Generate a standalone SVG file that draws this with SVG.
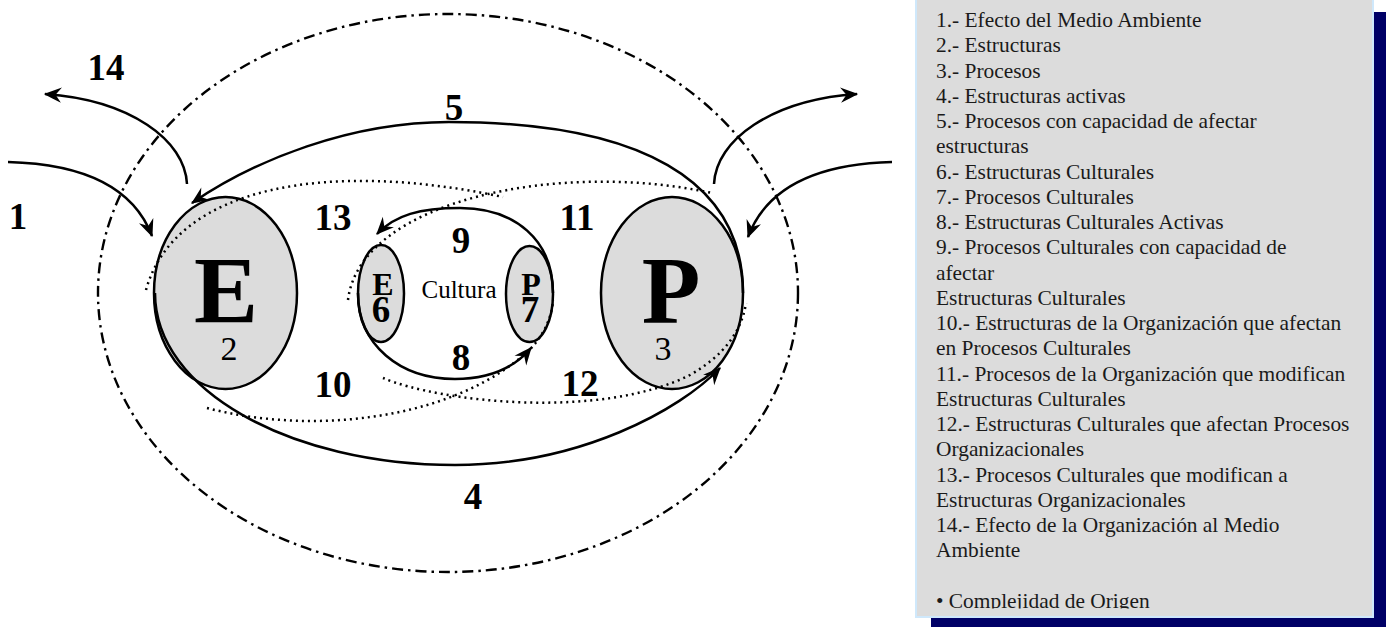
<svg xmlns="http://www.w3.org/2000/svg" width="1390" height="627" viewBox="0 0 1390 627">
<style>
.lbl{font-family:"Liberation Serif","Times New Roman",serif;font-weight:bold;font-size:37px;fill:#000;text-anchor:middle}
.big{font-family:"Liberation Serif","Times New Roman",serif;font-weight:bold;font-size:96px;fill:#000;text-anchor:middle}
.sm{font-family:"Liberation Serif","Times New Roman",serif;font-weight:bold;fill:#000;text-anchor:middle}
.reg{font-family:"Liberation Serif","Times New Roman",serif;fill:#000;text-anchor:middle}
.node{fill:#dcdcdc;stroke:#000;stroke-width:2.5}
.solid{fill:none;stroke:#000;stroke-width:2.5}
.dot{fill:none;stroke:#000;stroke-width:2.5;stroke-dasharray:2 4}
.dd{fill:none;stroke:#000;stroke-width:2.4;stroke-dasharray:11 5 2.5 5}
.leg{font-family:"Liberation Serif","Times New Roman",serif;font-size:21.4px;fill:#1a1a1a}
</style>
<defs>
<marker id="ah" markerUnits="userSpaceOnUse" markerWidth="20" markerHeight="20" viewBox="-15 -8 17 16" refX="0" refY="0" orient="auto" overflow="visible">
<path d="M1,0 C-4,-2 -9,-4.5 -14,-6.5 L-9,0 L-14,6.5 C-9,4.5 -4,2 1,0 Z" fill="#000"/>
</marker>
<clipPath id="legclip"><rect x="915" y="0" width="458" height="608.5"/></clipPath>
</defs>
<rect width="1390" height="627" fill="#fff"/>

<g id="legend">
<rect x="931" y="12" width="455" height="615" fill="#000066"/>
<rect x="916" y="-5" width="457" height="622" fill="#dcdcdc" stroke="#cfe8fb" stroke-width="2"/>
<g clip-path="url(#legclip)" class="leg">
<text x="936" y="27">1.- Efecto del Medio Ambiente</text>
<text x="936" y="52.25">2.- Estructuras</text>
<text x="936" y="77.5">3.- Procesos</text>
<text x="936" y="102.75">4.- Estructuras activas</text>
<text x="936" y="128">5.- Procesos con capacidad de afectar</text>
<text x="936" y="153.25">estructuras</text>
<text x="936" y="178.5">6.- Estructuras Culturales</text>
<text x="936" y="203.75">7.- Procesos Culturales</text>
<text x="936" y="229">8.- Estructuras Culturales Activas</text>
<text x="936" y="254.25">9.- Procesos Culturales con capacidad de</text>
<text x="936" y="279.5">afectar</text>
<text x="936" y="304.75">Estructuras Culturales</text>
<text x="936" y="330">10.- Estructuras de la Organización que afectan</text>
<text x="936" y="355.25">en Procesos Culturales</text>
<text x="936" y="380.5">11.- Procesos de la Organización que modifican</text>
<text x="936" y="405.75">Estructuras Culturales</text>
<text x="936" y="431">12.- Estructuras Culturales que afectan Procesos</text>
<text x="936" y="456.25">Organizacionales</text>
<text x="936" y="481.5">13.- Procesos Culturales que modifican a</text>
<text x="936" y="506.75">Estructuras Organizacionales</text>
<text x="936" y="532">14.- Efecto de la Organización al Medio</text>
<text x="936" y="557.25">Ambiente</text>
<text x="936" y="607.5">• Complejidad de Origen</text>
</g>
</g>

<g id="environment">
<ellipse class="dd" cx="448" cy="293" rx="350" ry="279"/>
</g>

<g id="node-E">
<ellipse class="node" cx="225.5" cy="293" rx="71.5" ry="96"/>
</g>
<g id="node-P">
<ellipse class="node" cx="672" cy="293" rx="71" ry="96"/>
</g>
<g id="node-E6">
<ellipse class="node" cx="381" cy="293.5" rx="23" ry="48.5"/>
</g>
<g id="node-P7">
<ellipse class="node" cx="529.5" cy="294" rx="23.5" ry="48"/>
</g>

<g id="connectors">
<path class="dot" d="M146,290 C175,185 330,160 503,197"/>
<path class="dot" d="M348,300 C360,200 560,160 712,193"/>
<path class="dot" d="M207,408 C310,435 440,420 515,362 C540,345 552,320 553,300"/>
<path class="dot" d="M383,378 C440,402 600,420 690,375 C725,355 742,330 746,303"/>
<path class="solid" d="M743,293 C743,180 640,122 449,122 C350,122 255,160 192,203" marker-end="url(#ah)"/>
<path class="solid" d="M155,293 C155,390 290,465 455,465 C580,465 680,410 720,368" marker-end="url(#ah)"/>
<path class="solid" d="M553,293 C553,240 515,208 460,208 C420,208 395,215 377,234" marker-end="url(#ah)"/>
<path class="solid" d="M358,293 C358,345 400,379 455,379 C490,379 515,367 531,348" marker-end="url(#ah)"/>
<path class="solid" d="M8,162 Q125,165 152,236" marker-end="url(#ah)"/>
<path class="solid" d="M187,184 C185,140 130,100 45,94" marker-end="url(#ah)"/>
<path class="solid" d="M714,184 C716,140 771,100 857,94" marker-end="url(#ah)"/>
<path class="solid" d="M892,162 Q775,165 748,237" marker-end="url(#ah)"/>
</g>

<g id="labels">
<text class="big" x="226" y="323">E</text>
<text class="reg" x="229" y="360" font-size="34">2</text>
<text class="big" x="671" y="323">P</text>
<text class="reg" x="663" y="360" font-size="34">3</text>
<text class="sm" x="383" y="295" font-size="32">E</text>
<text class="sm" x="381" y="322" font-size="37">6</text>
<text class="sm" x="531" y="295" font-size="32">P</text>
<text class="sm" x="530" y="322" font-size="37">7</text>
<text class="reg" x="459" y="298" font-size="25">Cultura</text>
<text class="lbl" x="18" y="229">1</text>
<text class="lbl" x="106" y="80">14</text>
<text class="lbl" x="454" y="120">5</text>
<text class="lbl" x="333" y="230">13</text>
<text class="lbl" x="461" y="253">9</text>
<text class="lbl" x="577" y="230">11</text>
<text class="lbl" x="461" y="370">8</text>
<text class="lbl" x="333" y="397">10</text>
<text class="lbl" x="580" y="396">12</text>
<text class="lbl" x="473" y="509">4</text>
</g>
</svg>
